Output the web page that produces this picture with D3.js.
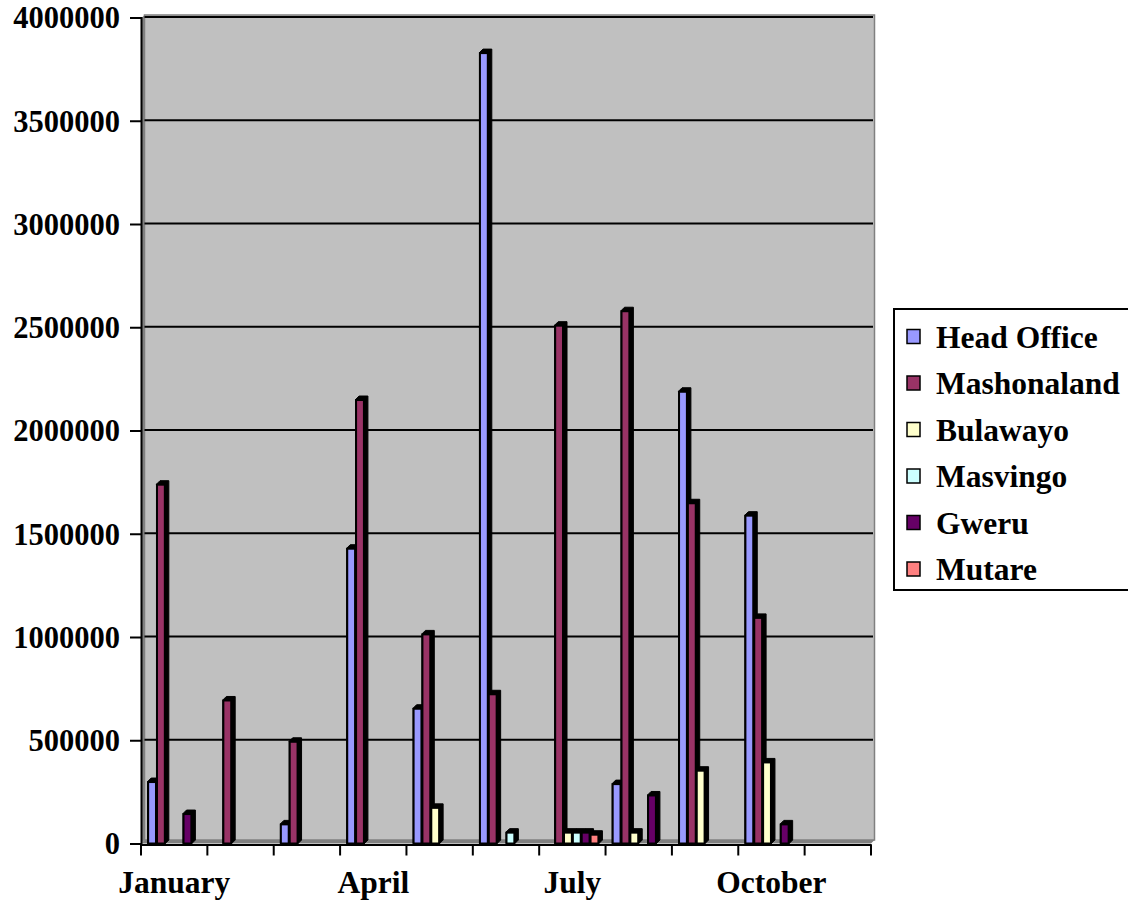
<!DOCTYPE html>
<html>
<head>
<meta charset="utf-8">
<script src="https://cdn.jsdelivr.net/npm/d3@7"></script>
<style>
  html, body { margin: 0; padding: 0; background: #ffffff; }
  svg { display: block; }
  text { font-family: "Liberation Serif", "Times New Roman", serif; font-weight: bold; fill: #000; }
</style>
</head>
<body>
<svg id="chart" width="1128" height="905"></svg>
<script>
const months = ["January","February","March","April","May","June","July","August","September","October","November"];
const seriesNames = ["Head Office","Mashonaland","Bulawayo","Masvingo","Gweru","Mutare"];
const seriesColors = ["#9999FF","#993366","#FFFFCC","#CCFFFF","#660066","#FF8080"];
const headOffice  = [300000, 0, 95000, 1430000, 655000, 3830000, 0, 290000, 2190000, 1590000, 0];
const mashonaland = [1740000, 695000, 495000, 2150000, 1015000, 725000, 2510000, 2580000, 1650000, 1095000, 0];
const bulawayo    = [0, 0, 0, 0, 175000, 0, 55000, 55000, 355000, 395000, 0];
const masvingo    = [0, 0, 0, 0, 0, 55000, 55000, 0, 0, 0, 0];
const gweru       = [145000, 0, 0, 0, 0, 0, 55000, 235000, 0, 95000, 0];
const mutare      = [0, 0, 0, 0, 0, 0, 45000, 0, 0, 0, 0];
const yTicks = [0, 500000, 1000000, 1500000, 2000000, 2500000, 3000000, 3500000, 4000000];
const shownLabels = ["January","April","July","October"];

const seriesValues = [headOffice, mashonaland, bulawayo, masvingo, gweru, mutare];

const svg = d3.select("#chart");
const pLeft = 141, pRight = 871, pBase = 843.5, pTop = 17.5, depth = 3.5;

const x0 = d3.scaleBand().domain(months).range([pLeft, pRight]).paddingInner(0).paddingOuter(0);
const bw = x0.bandwidth();
const x1 = d3.scaleBand().domain(seriesNames).range([bw * 0.1, bw * 0.9]).padding(0);
const y = d3.scaleLinear().domain([0, 4000000]).range([pBase, pTop]);

// back wall
svg.append("rect").attr("x", pLeft + depth).attr("y", pTop - depth + 1)
  .attr("width", pRight - pLeft).attr("height", (pBase - depth) - (pTop - depth + 1))
  .attr("fill", "#C0C0C0").attr("stroke", "#808080").attr("stroke-width", 1.5);
// left side wall
svg.append("polygon")
  .attr("points", `${pLeft},${pTop+1} ${pLeft+depth},${pTop-depth+1} ${pLeft+depth},${pBase-depth} ${pLeft},${pBase}`)
  .attr("fill", "#808080");
// floor
svg.append("polygon")
  .attr("points", `${pLeft},${pBase} ${pLeft+depth},${pBase-depth} ${pRight+depth},${pBase-depth} ${pRight},${pBase}`)
  .attr("fill", "#808080");

// gridlines
svg.append("g").selectAll("line").data(yTicks.filter(d => d > 0)).join("line")
  .attr("x1", pLeft + depth).attr("x2", pRight + 2)
  .attr("y1", d => y(d) - 0.5).attr("y2", d => y(d) - 0.5)
  .attr("stroke", "#000").attr("stroke-width", 2);

// bars
const bars = svg.append("g");
months.forEach((m, i) => {
  seriesNames.forEach((s, j) => {
    const v = seriesValues[j][i];
    if (!v) return;
    const bx = x0(m) + x1(s);
    const w = x1.bandwidth();
    const by = y(v);
    const g = bars.append("g");
    g.append("polygon")
      .attr("points", `${bx},${by} ${bx+depth},${by-depth} ${bx+w+depth},${by-depth} ${bx+w+depth},${pBase-depth} ${bx+w},${pBase} ${bx},${pBase}`)
      .attr("fill", "#000").attr("stroke", "#000").attr("stroke-width", 1);
    g.append("rect").attr("x", bx + 0.5).attr("y", by + 0.5)
      .attr("width", w - 1).attr("height", pBase - by - 0.5)
      .attr("fill", seriesColors[j]).attr("stroke", "#000").attr("stroke-width", 2);
  });
});

// y axis
const yAxis = d3.axisLeft(y).tickValues(yTicks).tickSize(11).tickPadding(10).tickFormat(d3.format("d"));
const ya = svg.append("g").attr("transform", `translate(${pLeft},0)`).call(yAxis);
ya.select(".domain").attr("stroke", "#000").attr("stroke-width", 2);
ya.selectAll(".tick line").attr("stroke", "#000").attr("stroke-width", 2);
ya.selectAll(".tick text").attr("font-size", 30.5).attr("dy", "0.34em")
  .style("font-family", '"Liberation Serif", serif').style("font-weight", "bold");

// x axis
const xAxis = d3.axisBottom(x0).tickSize(0).tickFormat(d => shownLabels.includes(d) ? d : "");
const xa = svg.append("g").attr("transform", `translate(0,${pBase + 1})`).call(xAxis);
xa.select(".domain").attr("stroke", "#000").attr("stroke-width", 2);
xa.selectAll(".tick text").attr("font-size", 31.5).attr("y", 48).attr("dy", 0)
  .style("font-family", '"Liberation Serif", serif').style("font-weight", "bold");
// category boundary ticks
const bounds = months.map(m => x0(m)).concat([pRight]);
xa.append("g").selectAll("line").data(bounds).join("line")
  .attr("x1", d => d).attr("x2", d => d).attr("y1", 0).attr("y2", 11)
  .attr("stroke", "#000").attr("stroke-width", 2);

// legend
const lg = svg.append("g");
lg.append("rect").attr("x", 894).attr("y", 309).attr("width", 240).attr("height", 281)
  .attr("fill", "#fff").attr("stroke", "#000").attr("stroke-width", 2);
const ly = d3.scalePoint().domain(seriesNames).range([336.5, 569]);
seriesNames.forEach((s, j) => {
  lg.append("rect").attr("x", 907).attr("y", ly(s) - 7).attr("width", 13).attr("height", 14)
    .attr("fill", seriesColors[j]).attr("stroke", "#000").attr("stroke-width", 1.5);
  lg.append("text").attr("x", 936).attr("y", ly(s)).attr("dy", "0.35em")
    .attr("font-size", 31.5).text(s);
});
</script>
</body>
</html>
